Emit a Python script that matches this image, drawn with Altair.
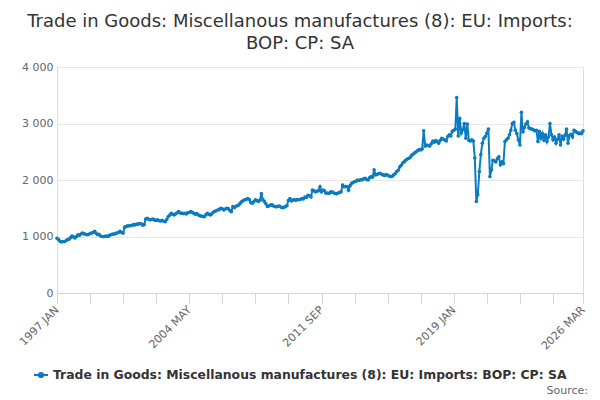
import altair as alt
import pandas as pd

TITLE_1 = "Trade in Goods: Miscellanous manufactures (8): EU: Imports:"
TITLE_2 = "BOP: CP: SA"
SERIES = "Trade in Goods: Miscellanous manufactures (8): EU: Imports: BOP: CP: SA"

y1997 = [970, 945, 915, 905, 910, 912, 925, 945, 950, 980, 1010, 990]
y1998 = [975, 1000, 1030, 1020, 1045, 1060, 1050, 1040, 1030, 1035, 1050, 1060]
y1999 = [1070, 1090, 1060, 1030, 1040, 1010, 1000, 995, 1005, 1010, 1000, 1020]
y2000 = [1030, 1045, 1040, 1055, 1060, 1075, 1090, 1070, 1060, 1165, 1175, 1190]
y2001 = [1185, 1195, 1200, 1210, 1205, 1220, 1215, 1230, 1225, 1200, 1210, 1310]
y2002 = [1320, 1305, 1295, 1300, 1310, 1290, 1285, 1295, 1280, 1275, 1285, 1270]
y2003 = [1260, 1300, 1350, 1375, 1410, 1395, 1380, 1400, 1420, 1440, 1415, 1410]
y2004 = [1405, 1410, 1400, 1420, 1425, 1440, 1430, 1410, 1395, 1405, 1380, 1370]
y2005 = [1360, 1355, 1350, 1380, 1410, 1395, 1380, 1400, 1430, 1445, 1455, 1470]
y2006 = [1480, 1500, 1490, 1470, 1485, 1500, 1495, 1460, 1440, 1530, 1510, 1535]
y2007 = [1545, 1560, 1590, 1620, 1635, 1650, 1660, 1670, 1655, 1600, 1590, 1620]
y2008 = [1650, 1635, 1620, 1640, 1760, 1650, 1620, 1580, 1530, 1540, 1555, 1560]
y2009 = [1540, 1530, 1525, 1535, 1540, 1520, 1510, 1515, 1530, 1545, 1640, 1670]
y2010 = [1630, 1645, 1650, 1640, 1655, 1650, 1660, 1670, 1665, 1700, 1690, 1730]
y2011 = [1720, 1700, 1820, 1810, 1790, 1800, 1810, 1880, 1790, 1820, 1810, 1765]
y2012 = [1770, 1760, 1785, 1790, 1775, 1760, 1755, 1770, 1780, 1790, 1910, 1880]
y2013 = [1885, 1880, 1820, 1900, 1940, 1955, 1970, 1980, 2000, 1990, 2005, 2000]
y2014 = [2020, 2030, 2010, 2000, 2040, 2060, 2050, 2180, 2090, 2100, 2110, 2120]
y2015 = [2100, 2090, 2080, 2095, 2085, 2070, 2060, 2065, 2090, 2110, 2150, 2170]
y2016 = [2230, 2260, 2300, 2320, 2350, 2370, 2380, 2400, 2440, 2460, 2480, 2500]
y2017 = [2520, 2540, 2530, 2550, 2870, 2600, 2620, 2610, 2600, 2640, 2690, 2670]
y2018 = [2700, 2680, 2650, 2700, 2740, 2720, 2710, 2690, 2770, 2800, 2780, 2860]
y2019 = [2880, 2900, 3460, 2780, 3090, 2830, 2890, 3000, 2740, 2990, 2700, 2690]
y2020 = [2710, 2690, 2390, 1620, 1740, 2150, 2450, 2650, 2740, 2770, 2830, 2900]
y2021 = [2060, 2180, 2350, 2340, 2320, 2380, 2410, 2270, 2320, 2290, 2680, 2710]
y2022 = [2740, 2800, 2880, 3000, 3020, 2880, 2820, 2710, 2620, 3200, 2850, 2930]
y2023 = [2990, 3030, 2920, 2910, 2900, 2890, 2870, 2880, 2680, 2860, 2740, 2820]
y2024 = [2700, 2800, 2680, 2760, 3000, 2800, 2710, 2760, 2650, 2720, 2800, 2620]
y2025 = [2770, 2720, 2790, 2900, 2650, 2790, 2810, 2760, 2880, 2860, 2840, 2820]
y2026 = [2830, 2820, 2870]

years = [y1997, y1998, y1999, y2000, y2001, y2002, y2003, y2004, y2005, y2006,
         y2007, y2008, y2009, y2010, y2011, y2012, y2013, y2014, y2015, y2016,
         y2017, y2018, y2019, y2020, y2021, y2022, y2023, y2024, y2025, y2026]

values = [v for yr in years for v in yr]
dates = pd.date_range("1997-01-01", periods=len(values), freq="MS").strftime("%Y-%m-%d")

df = pd.DataFrame({"date": list(dates), "value": values, "series": SERIES})

# tick every 22 months plus the final month; labels on a subset
tick_idx = list(range(0, 331, 22)) + [350]
label_keys = ["1997-01", "2004-05", "2011-09", "2019-01", "2026-03"]
tick_vals = [alt.DateTime(year=1997 + i // 12, month=i % 12 + 1, date=1, utc=True) for i in tick_idx]

label_list = ",".join("'" + k + "'" for k in label_keys)
x_label_expr = (
    f"indexof([{label_list}], utcFormat(datum.value, '%Y-%m')) >= 0 ? "
    "upper(utcFormat(datum.value, '%Y %b')) : ''"
)

BLUE = "#0b7bc1"

line = alt.Chart(df).mark_line(
    strokeWidth=2,
    point=alt.OverlayMarkDef(size=13, filled=True, color=BLUE),
).encode(
    x=alt.X(
        "date:T",
        scale=alt.Scale(
            type="utc",
            domain=[alt.DateTime(year=1997, month=1, date=1, utc=True),
                    alt.DateTime(year=2026, month=3, date=1, utc=True)],
            nice=False,
        ),
        axis=alt.Axis(
            title=None,
            values=tick_vals,
            labelExpr=x_label_expr,
            labelAngle=-45,
            labelAlign="right",
            labelBaseline="middle",
            labelFontSize=11,
            labelColor="#666666",
            labelFont="DejaVu Sans",
            labelPadding=5,
            labelOverlap=False,
            labelBound=False,
            labelFlush=False,
            grid=False,
            domainColor="#ccd6eb",
            tickColor="#ccd6eb",
            tickSize=10,
        ),
    ),
    y=alt.Y(
        "value:Q",
        scale=alt.Scale(domain=[0, 4000], nice=False),
        axis=alt.Axis(
            title=None,
            values=[0, 1000, 2000, 3000, 4000],
            labelExpr="replace(format(datum.value, ','), ',', ' ')",
            labelFontSize=11,
            labelColor="#666666",
            labelFont="DejaVu Sans",
            labelPadding=4,
            domain=False,
            ticks=False,
            gridColor="#e6e6e6",
        ),
    ),
    color=alt.Color(
        "series:N",
        scale=alt.Scale(range=[BLUE]),
        legend=alt.Legend(
            title=None,
            orient="none",
            legendX=-24,
            legendY=300,
            labelFontSize=12.4,
            labelFontWeight="bold",
            labelColor="#333333",
            labelFont="DejaVu Sans",
            labelLimit=0,
            symbolType="M-1,0L1,0M0.3,0A0.3,0.3,0,1,1,-0.3,0A0.3,0.3,0,1,1,0.3,0",
            symbolSize=196,
            symbolStrokeWidth=2,
            symbolStrokeColor=BLUE,
            symbolFillColor=BLUE,
        ),
    ),
)

source = alt.Chart(pd.DataFrame({"t": ["Source:"]})).mark_text(
    align="right", baseline="middle", fontSize=11, color="#666666", font="DejaVu Sans"
).encode(text="t:N", x=alt.value(531), y=alt.value(324))

chart = alt.layer(line, source).properties(
    width=526,
    height=226,
    autosize=alt.AutoSizeParams(type="none"),
    padding={"left": 49, "top": 59, "right": 9, "bottom": 104},
    title=alt.TitleParams(
        text=[TITLE_1, TITLE_2],
        fontSize=18,
        font="DejaVu Sans",
        fontWeight="normal",
        color="#333333",
        anchor="middle",
        dx=-20,
        offset=8,
        lineHeight=22.5,
    ),
).configure_view(stroke=None).configure(background="white")

chart.save("out.html", embed_options={"renderer": "svg", "actions": False})
